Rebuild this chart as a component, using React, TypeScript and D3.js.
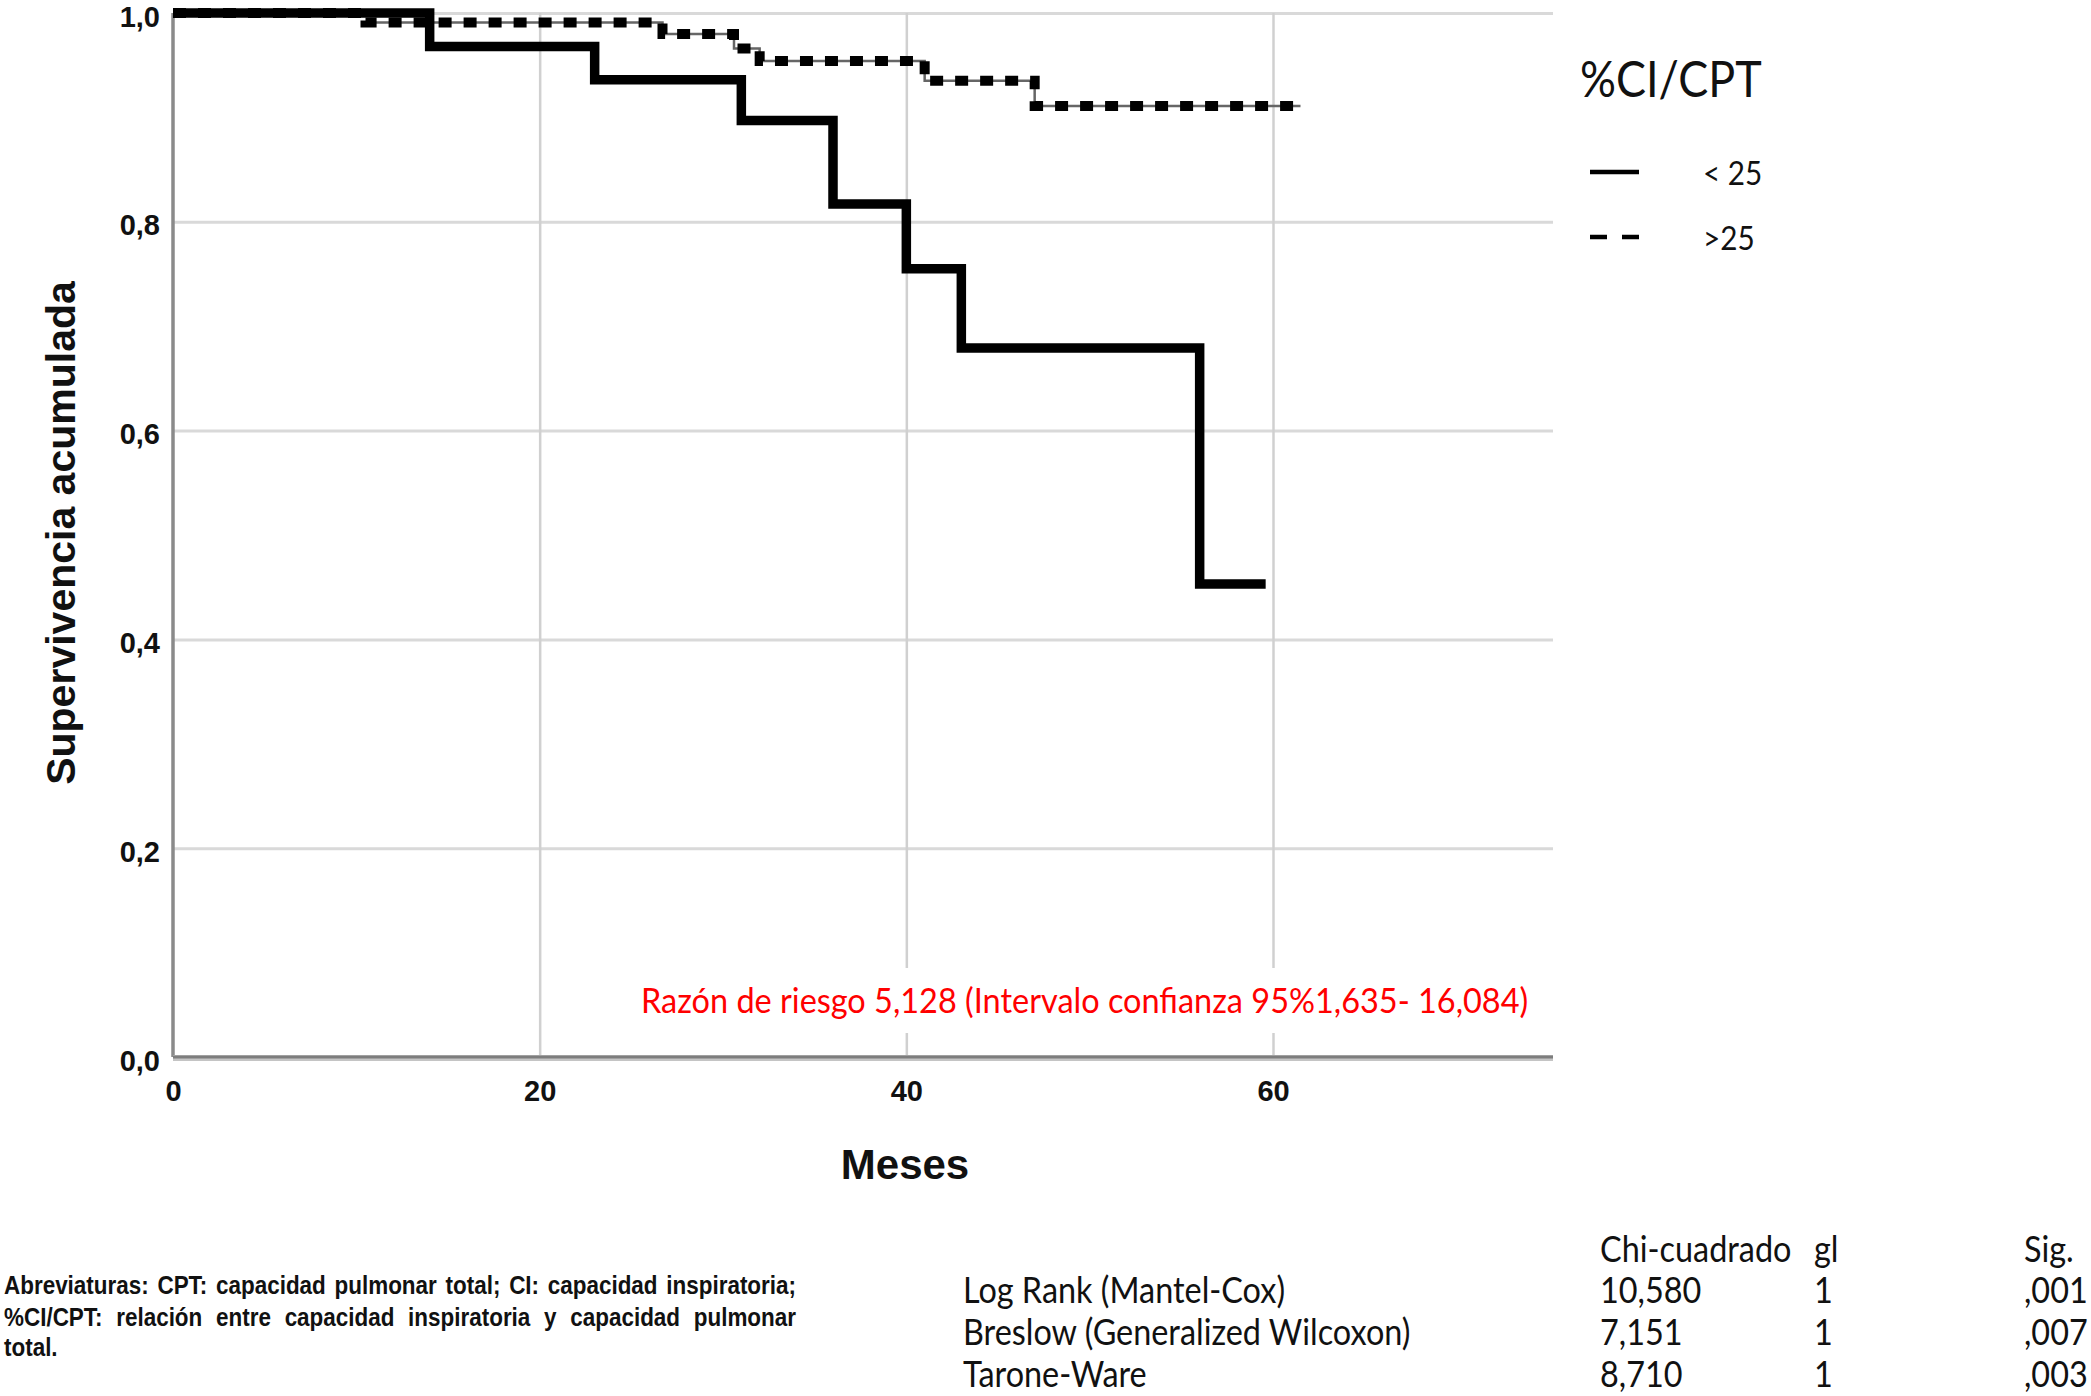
import { useRef, useEffect } from "react";
import * as d3 from "d3";

const W = 2091;
const H = 1396;

// Kaplan-Meier steps for %CI/CPT < 25
const lowTimes = [0, 14, 23, 31, 36, 40, 43, 56];
const lowSurv = [1, 0.968, 0.936, 0.897, 0.817, 0.755, 0.679, 0.453];
const lowEnd = 59.6;

// Kaplan-Meier steps for %CI/CPT > 25
const highTimes = [0, 10.5, 26.7, 30.6, 32, 41, 47];
const highSurv = [1, 0.991, 0.98, 0.966, 0.954, 0.935, 0.911];
const highEnd = 61.5;

const xTicks = [0, 20, 40, 60];
const yTicks = [0, 0.2, 0.4, 0.6, 0.8, 1.0];

const legendTitle = "%CI/CPT";
const groupLabels = ["< 25", ">25"];

const hazardNote = "Razón de riesgo 5,128 (Intervalo confianza 95%1,635- 16,084)";

const tableHeaders = ["Chi-cuadrado", "gl", "Sig."];
const testNames = ["Log Rank (Mantel-Cox)", "Breslow (Generalized Wilcoxon)", "Tarone-Ware"];
const chiSquare = ["10,580", "7,151", "8,710"];
const dfValues = ["1", "1", "1"];
const sigValues = [",001", ",007", ",003"];

const footnote = [
  "Abreviaturas: CPT: capacidad pulmonar total; CI: capacidad inspiratoria;",
  "%CI/CPT: relación entre capacidad inspiratoria y capacidad pulmonar",
  "total.",
];

const ARIAL = "'Liberation Sans', Arial, sans-serif";
const CAL = "Lato, 'Open Sans', sans-serif";

type G = d3.Selection<SVGGElement, unknown, null, undefined>;

// Calibri-like text: Lato squeezed horizontally
function calText(parent: G, x: number, y: number, str: string, size: number, k: number) {
  return parent
    .append("text")
    .attr("transform", `translate(${x},${y}) scale(${k},1)`)
    .attr("font-family", CAL)
    .attr("font-size", size)
    .text(str);
}

export default function App() {
  const svgRef = useRef<SVGSVGElement>(null);

  useEffect(() => {
    if (!svgRef.current) return;
    const svg = d3.select(svgRef.current);
    svg.selectAll("*").remove();

    const left = 173;
    const top = 13;
    const bottom = 1057;
    const right = 1553;

    const x = d3.scaleLinear().domain([0, 75]).range([left, 1548]);
    const y = d3.scaleLinear().domain([0, 1]).range([bottom, top]);

    svg.append("rect").attr("width", W).attr("height", H).attr("fill", "#fff");

    // Y axis + horizontal grid
    const gy = svg
      .append("g")
      .attr("transform", `translate(${left},0)`)
      .call(
        d3
          .axisLeft(y)
          .tickValues(yTicks)
          .tickSize(-(right - left))
          .tickSizeOuter(0)
          .tickPadding(13)
          .tickFormat((d) => (d as number).toFixed(1).replace(".", ","))
      );
    gy.selectAll(".tick line").attr("stroke", "#d9d9d9").attr("stroke-width", 3);
    gy.select(".domain").remove();
    gy.selectAll("text")
      .attr("font-family", ARIAL)
      .attr("font-weight", "bold")
      .attr("font-size", 29)
      .attr("fill", "#111")
      .attr("dy", "0.45em");

    // X axis + vertical grid
    const gx = svg
      .append("g")
      .attr("transform", `translate(0,${bottom})`)
      .call(
        d3
          .axisBottom(x)
          .tickValues(xTicks)
          .tickSize(-(bottom - top))
          .tickSizeOuter(0)
          .tickPadding(23)
      );
    gx.selectAll(".tick line")
      .attr("stroke", (d) => ((d as number) === 0 ? "none" : "#d0d0d0"))
      .attr("stroke-width", 2.5);
    gx.select(".domain").remove();
    gx.selectAll("text")
      .attr("font-family", ARIAL)
      .attr("font-weight", "bold")
      .attr("font-size", 29)
      .attr("fill", "#111");

    // axis lines
    svg
      .append("line")
      .attr("x1", left)
      .attr("x2", left)
      .attr("y1", top)
      .attr("y2", bottom)
      .attr("stroke", "#8a8a8a")
      .attr("stroke-width", 3.5);
    svg
      .append("line")
      .attr("x1", left)
      .attr("x2", right)
      .attr("y1", bottom + 1)
      .attr("y2", bottom + 1)
      .attr("stroke", "#c4c4c4")
      .attr("stroke-width", 6);
    svg
      .append("line")
      .attr("x1", left)
      .attr("x2", right)
      .attr("y1", bottom)
      .attr("y2", bottom)
      .attr("stroke", "#7d7d7d")
      .attr("stroke-width", 3);

    // hazard ratio note with white background
    svg
      .append("rect")
      .attr("x", 630)
      .attr("y", 968)
      .attr("width", 910)
      .attr("height", 65)
      .attr("fill", "#fff");
    const ng = svg.append("g").attr("fill", "#ff0000");
    calText(ng, 641, 1013, hazardNote, 34, 0.955);

    // survival curves
    const line = d3
      .line<[number, number]>()
      .x((d) => x(d[0]))
      .y((d) => y(d[1]))
      .curve(d3.curveStepAfter);

    const highPts: [number, number][] = highTimes.map((t, i) => [t, highSurv[i]]);
    highPts.push([highEnd, highSurv[highSurv.length - 1]]);
    const lowPts: [number, number][] = lowTimes.map((t, i) => [t, lowSurv[i]]);
    lowPts.push([lowEnd, lowSurv[lowSurv.length - 1]]);

    svg
      .append("path")
      .attr("d", line(highPts.filter((p) => p[0] >= 10.5)))
      .attr("fill", "none")
      .attr("stroke", "#666")
      .attr("stroke-width", 2.5);
    svg
      .append("path")
      .attr("d", line(highPts))
      .attr("fill", "none")
      .attr("stroke", "#000")
      .attr("stroke-width", 10)
      .attr("stroke-dasharray", "13 12");

    svg
      .append("path")
      .attr("d", line(lowPts))
      .attr("fill", "none")
      .attr("stroke", "#000")
      .attr("stroke-width", 9.5)
      .attr("stroke-linejoin", "miter");

    // axis titles
    svg
      .append("text")
      .attr("transform", "translate(75,533) rotate(-90)")
      .attr("text-anchor", "middle")
      .attr("font-family", ARIAL)
      .attr("font-weight", "bold")
      .attr("font-size", 41)
      .attr("fill", "#111")
      .text("Supervivencia acumulada");
    svg
      .append("text")
      .attr("x", 905)
      .attr("y", 1179)
      .attr("text-anchor", "middle")
      .attr("font-family", ARIAL)
      .attr("font-weight", "bold")
      .attr("font-size", 42)
      .attr("fill", "#111")
      .text("Meses");

    // legend
    const lg = svg.append("g").attr("fill", "#111");
    calText(lg, 1580, 97, legendTitle, 51, 0.88);
    const dashes = ["none", "17 15"];
    groupLabels.forEach((lab, i) => {
      const ly = 172 + i * 65;
      lg.append("line")
        .attr("x1", 1590)
        .attr("x2", 1639)
        .attr("y1", ly)
        .attr("y2", ly)
        .attr("stroke", "#000")
        .attr("stroke-width", 4.5)
        .attr("stroke-dasharray", dashes[i]);
      calText(lg, 1703, ly + 13, lab, 33, 0.9);
    });

    // test table
    const tb = svg.append("g").attr("fill", "#111");
    const colX = [1600, 1814, 2024];
    const k = 0.9;
    tableHeaders.forEach((h, j) => calText(tb, colX[j], 1262, h, 36, k));
    testNames.forEach((name, i) => {
      const ry = 1303 + i * 42;
      calText(tb, 963, ry, name, 36, k);
      calText(tb, colX[0], ry, chiSquare[i], 36, k);
      calText(tb, colX[1], ry, dfValues[i], 36, k);
      calText(tb, colX[2], ry, sigValues[i], 36, k);
    });

    // footnote, justified, condensed
    const sx = 0.85;
    const lineWidth = 792;
    const fn = svg
      .append("g")
      .attr("transform", `translate(4,0) scale(${sx},1)`)
      .attr("font-family", ARIAL)
      .attr("font-weight", "bold")
      .attr("font-size", 20)
      .attr("fill", "#111");
    const probe = fn.append("text").text(footnote[0]);
    const len20 = (probe.node() as SVGTextElement).getComputedTextLength();
    probe.remove();
    const spaces0 = footnote[0].split(" ").length - 1;
    const fs = (20 * (lineWidth / sx - spaces0 * 3)) / len20;
    fn.attr("font-size", fs);
    const baselines = [1294, 1326, 1356];
    footnote.forEach((ln, i) => {
      const t = fn.append("text").attr("x", 0).attr("y", baselines[i]).text(ln);
      if (i < footnote.length - 1) {
        const node = t.node() as SVGTextElement;
        const len = node.getComputedTextLength();
        const spaces = ln.split(" ").length - 1;
        t.attr("word-spacing", (lineWidth / sx - len) / spaces);
      }
    });
  }, []);

  return (
    <div style={{ position: "absolute", left: 0, top: 0 }}>
      <svg ref={svgRef} width={W} height={H} style={{ display: "block" }} />
    </div>
  );
}
